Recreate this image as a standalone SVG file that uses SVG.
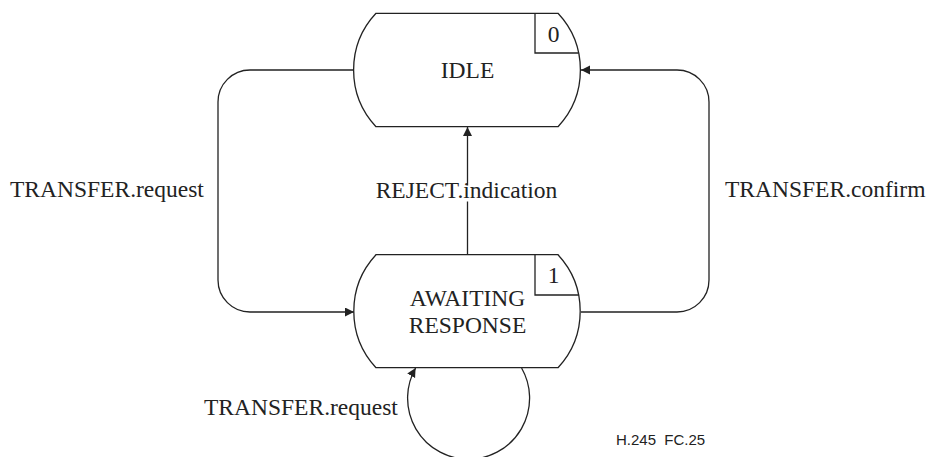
<svg xmlns="http://www.w3.org/2000/svg" width="927" height="457" viewBox="0 0 927 457">
<style>
.shape{fill:#fff;stroke:#222;stroke-width:1.3}
.box{fill:none;stroke:#222;stroke-width:1.3}
.conn{fill:none;stroke:#222;stroke-width:1.3}
.t{font-family:'Liberation Serif','Times New Roman',Tinos,'DejaVu Serif',serif;font-size:23.5px;fill:#222}
.c{text-anchor:middle}
.fig{font-family:'Liberation Sans',Arial,sans-serif;font-size:15px;fill:#222;white-space:pre}
</style>
<defs>
<marker id="arr" markerWidth="10" markerHeight="10" refX="9" refY="4.5" orient="auto" markerUnits="userSpaceOnUse">
<path d="M0,0 L9,4.5 L0,9 Z" fill="#222"/>
</marker>
</defs>
<rect width="927" height="457" fill="#fff"/>
<g id="connectors">
<path class="conn" d="M354,70 H250 A32,32 0 0 0 218,102 V280 A32,32 0 0 0 250,312 H354" marker-end="url(#arr)"/>
<path class="conn" d="M581,312 H677 A32,32 0 0 0 709,280 V102 A32,32 0 0 0 677,70 H581" marker-end="url(#arr)"/>
<path class="conn" d="M467.5,254.7 V201.5"/>
<path class="conn" d="M467.5,185.5 V127" marker-end="url(#arr)"/>
<path class="conn" d="M521.6,368 A61,61 0 1 1 415.6,368" marker-end="url(#arr)"/>
</g>
<g id="idle">
<path class="shape" d="M376,13.3 H558 A83,83 0 0 1 558,126.7 H376 A83,83 0 0 1 376,13.3 Z"/>
<path class="box" d="M535,13.3 V53 H578.6"/>
<text class="t c" x="553.5" y="41.7" font-family="Liberation Serif, serif">0</text>
<text class="t c" x="467.5" y="78.3" font-family="Liberation Serif, serif">IDLE</text>
</g>
<g id="awaiting">
<path class="shape" d="M376,254.7 H558 A83,83 0 0 1 558,367.7 H376 A83,83 0 0 1 376,254.7 Z"/>
<path class="box" d="M535,254.7 V295 H578.8"/>
<text class="t c" x="553.5" y="282.7" font-family="Liberation Serif, serif">1</text>
<text class="t c" x="467.5" y="305.7" font-family="Liberation Serif, serif">AWAITING</text>
<text class="t c" x="467.5" y="332.7" font-family="Liberation Serif, serif">RESPONSE</text>
</g>
<g id="labels">
<text class="t" x="10" y="196.7" font-family="Liberation Serif, serif">TRANSFER.request</text>
<text class="t c" x="466.5" y="197.7" font-family="Liberation Serif, serif">REJECT.indication</text>
<text class="t" x="725" y="196.7" font-family="Liberation Serif, serif">TRANSFER.confirm</text>
<text class="t" x="204" y="415" font-family="Liberation Serif, serif">TRANSFER.request</text>
<text class="fig" x="616" y="445" xml:space="preserve">H.245  FC.25</text>
</g>
</svg>
